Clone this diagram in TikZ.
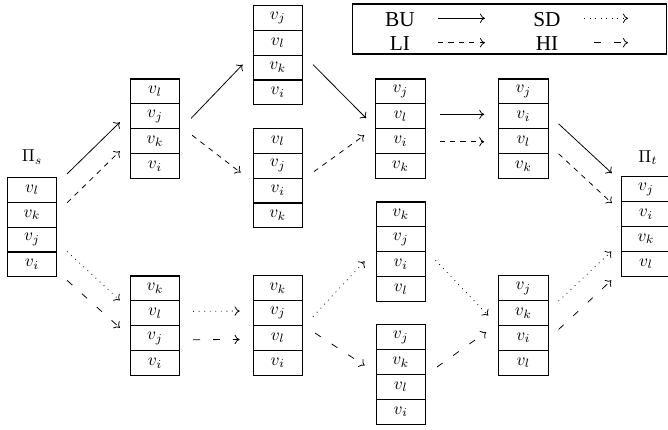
\documentclass[tikz,border=0pt]{standalone}
\usepackage{fontspec}
\newfontfamily\legfont{Liberation Serif}
\usetikzlibrary{calc,arrows.meta}
\tikzset{
  cell/.style={draw, line width=0.6pt, minimum width=28.5pt, minimum height=14.39pt, inner sep=0pt, font=\fontsize{10}{12}\selectfont},
  conn/.style={-{To[length=2.9pt, width=5.4pt]}, line width=0.45pt},
  arrBU/.style={conn},
  arrLI/.style={conn, dash pattern=on 3pt off 3pt},
  arrSD/.style={conn, dash pattern=on 0.5pt off 2.7pt},
  arrHI/.style={conn, dash pattern=on 4pt off 7.5pt},
  legtext/.style={font=\legfont\fontsize{12.3}{14}\selectfont, inner sep=0pt, anchor=base},
  pilabel/.style={font=\fontsize{10}{12}\selectfont, inner sep=0pt, anchor=base}
}
\newcommand\mkstack[7]{%
  \node[cell] (#1-1) at (#2, #3+12.45) {$#4$};
  \node[cell] (#1-2) at (#2, #3+37.35) {$#5$};
  \node[cell] (#1-3) at (#2, #3+62.25) {$#6$};
  \node[cell] (#1-4) at (#2, #3+87.15) {$#7$};
}
\begin{document}
\begin{tikzpicture}[x=0.578pt, y=-0.578pt]
\useasboundingbox (0,0) rectangle (668,429);

% stacks
\mkstack{ps}{32}{177.3}{v_l}{v_k}{v_j}{v_i}
\mkstack{a}{155}{79}{v_l}{v_j}{v_k}{v_i}
\mkstack{b}{277.8}{5.3}{v_j}{v_l}{v_k}{v_i}
\mkstack{c}{277.8}{128.3}{v_l}{v_j}{v_i}{v_k}
\mkstack{d}{400.4}{79}{v_j}{v_l}{v_i}{v_k}
\mkstack{e}{523.4}{79}{v_j}{v_i}{v_l}{v_k}
\mkstack{pt}{646}{176.7}{v_j}{v_i}{v_k}{v_l}
\mkstack{f}{155}{276}{v_k}{v_l}{v_j}{v_i}
\mkstack{g}{277.8}{275.7}{v_k}{v_j}{v_l}{v_i}
\mkstack{h}{400.8}{202}{v_k}{v_j}{v_i}{v_l}
\mkstack{k}{400.8}{324.7}{v_j}{v_k}{v_l}{v_i}
\mkstack{m}{523.4}{275.7}{v_j}{v_k}{v_i}{v_l}

% labels
\node[pilabel] (pslab) at ($(ps-1.north)+(0,-15)$) {$\Pi_s$};
\node[pilabel] (ptlab) at ($(pt-1.north)+(2,-14)$) {$\Pi_t$};

% upper connectors
\draw[arrBU] ($(ps-1.north east)+(10,-3)$) -- ($(a-3.north west)+(-10,-6)$);
\draw[arrLI] ($(ps-2.north east)+(10,1)$) -- ($(a-4.north west)+(-10,-2)$);
\draw[arrBU] ($(a-3.north east)+(11,-10)$) -- ($(b-3.north west)+(-10,10)$);
\draw[arrLI] ($(a-3.north east)+(12,7)$) -- ($(c-2.south west)+(-12,-6)$);
\draw[arrBU] ($(b-3.north east)+(10,10)$) -- ($(d-3.north west)+(-9,-10)$);
\draw[arrLI] ($(c-2.south east)+(11,-7)$) -- ($(d-3.north west)+(-11,7)$);
\draw[arrBU] ($(d-2.east)+(14,-2)$) -- ($(e-2.west)+(-14,-2)$);
\draw[arrLI] ($(d-3.east)+(14,0.5)$) -- ($(e-3.west)+(-14,0.5)$);
\draw[arrBU] ($(e-2.south east)+(10,-5.5)$) -- ($(pt-1.north west)+(-9,-3)$);
\draw[arrLI] ($(e-3.south east)+(10,-0.5)$) -- ($(pt-2.north west)+(-9,2)$);

% lower connectors
\draw[arrSD] ($(ps-3.south east)+(10,-1)$) -- ($(f-2.north west)+(-10,0)$);
\draw[arrHI] ($(ps-4.south east)+(10,3)$) -- ($(f-3.north west)+(-10,2.5)$);
\draw[arrSD] ($(f-2.east)+(13,-2)$) -- ($(g-2.west)+(-13,-2)$);
\draw[arrHI] ($(f-3.east)+(13,1.5)$) -- ($(g-3.west)+(-13,1.5)$);
\draw[arrSD] ($(g-2.south east)+(10,-9.5)$) -- ($(h-3.north west)+(-11,10)$);
\draw[arrHI] ($(g-3.north east)+(12,8)$) -- ($(k-2.south west)+(-11,-9.5)$);
\draw[arrSD] ($(h-3.north east)+(9.5,9)$) -- ($(m-2.south west)+(-10,-10.5)$);
\draw[arrHI] ($(k-2.south east)+(11,-8)$) -- ($(m-3.north west)+(-12,7)$);
\draw[arrSD] ($(m-2.north east)+(10,1)$) -- ($(pt-4.north west)+(-9.5,0.5)$);
\draw[arrHI] ($(m-3.north east)+(10,4.5)$) -- ($(pt-4.south west)+(-9.5,3.5)$);

% legend
\node[draw, line width=0.6pt, minimum width=182pt, minimum height=28.9pt, inner sep=0pt] (legend) at (509.5,29) {};
\node[legtext] (bu) at (400,26) {BU};
\node[legtext] (li) at (400,50) {LI};
\node[legtext] (sd) at (547,26) {SD};
\node[legtext] (hi) at (547,50) {HI};
\draw[arrBU] ($(bu.base)+(38,-7.7)$) -- ($(bu.base)+(85,-7.7)$);
\draw[arrLI] ($(li.base)+(38,-7.3)$) -- ($(li.base)+(85,-7.3)$);
\draw[arrSD] ($(sd.base)+(37,-7.7)$) -- ($(sd.base)+(81,-7.7)$);
\draw[arrHI, dash phase=5.8pt] ($(hi.base)+(37,-7.3)$) -- ($(hi.base)+(81,-7.3)$);
\end{tikzpicture}
\end{document}
